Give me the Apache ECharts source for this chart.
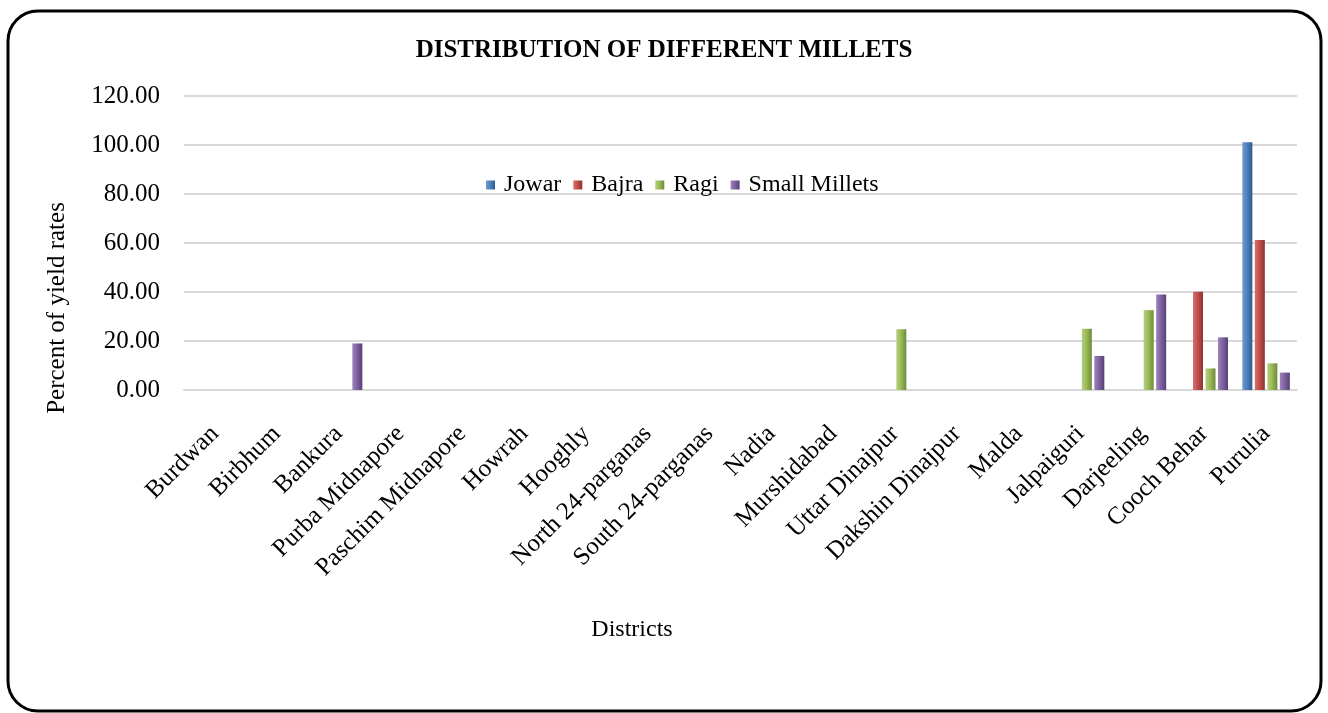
<!DOCTYPE html>
<html>
<head>
  <meta charset="utf-8">
  <title>millets</title>
  <script src="https://cdn.jsdelivr.net/npm/echarts@6/dist/echarts.min.js"></script>
  <style>
    body { margin: 0; background: #fff; }
    #chart { width: 1328px; height: 713px; }
  </style>
</head>
<body>
  <div id="chart"></div>
  <script>
    var districts = ['Burdwan', 'Birbhum', 'Bankura', 'Purba Midnapore', 'Paschim Midnapore', 'Howrah',
      'Hooghly', 'North 24-parganas', 'South 24-parganas', 'Nadia', 'Murshidabad', 'Uttar Dinajpur',
      'Dakshin Dinajpur', 'Malda', 'Jalpaiguri', 'Darjeeling', 'Cooch Behar', 'Purulia'];
    var jowar  = [0, 0, 0, 0, 0, 0, 0, 0, 0, 0, 0, 0, 0, 0, 0, 0, 0, 101.1];
    var bajra  = [0, 0, 0, 0, 0, 0, 0, 0, 0, 0, 0, 0, 0, 0, 0, 0, 40.1, 61.2];
    var ragi   = [0, 0, 0, 0, 0, 0, 0, 0, 0, 0, 0, 24.8, 0, 0, 25.0, 32.6, 8.8, 10.9];
    var small  = [0, 0, 19.0, 0, 0, 0, 0, 0, 0, 0, 0, 0, 0, 0, 13.9, 39.0, 21.5, 7.1];

    var font = '"Liberation Serif", "Times New Roman", serif';

    function shade(light, mid, dark) {
      return new echarts.graphic.LinearGradient(0, 0, 1, 0, [
        { offset: 0, color: light },
        { offset: 0.45, color: mid },
        { offset: 1, color: dark }
      ]);
    }

    function bar(name, data, light, mid, dark) {
      return {
        name: name,
        type: 'bar',
        data: data,
        barWidth: 10,
        barGap: '25%',
        itemStyle: { color: shade(light, mid, dark) }
      };
    }

    var chart = echarts.init(document.getElementById('chart'));
    chart.setOption({
      animation: false,
      title: {
        text: 'DISTRIBUTION OF DIFFERENT MILLETS',
        left: 'center',
        top: 38,
        padding: 0,
        textStyle: { fontFamily: font, fontSize: 25, fontWeight: 'bold', color: '#000' }
      },
      legend: {
        left: 486,
        top: 173,
        padding: 0,
        itemWidth: 9,
        itemHeight: 9,
        itemGap: 12,
        icon: 'rect',
        textStyle: { fontFamily: font, fontSize: 24, color: '#000', padding: [0, 0, 0, 4] },
        data: ['Jowar', 'Bajra', 'Ragi', 'Small Millets']
      },
      grid: { left: 184, right: 31, top: 96, bottom: 323 },
      xAxis: {
        type: 'category',
        data: districts,
        axisLine: { lineStyle: { color: '#d9d9d9', width: 2 } },
        axisTick: { show: false },
        axisLabel: {
          interval: 0,
          rotate: 45,
          margin: 40,
          fontFamily: font,
          fontSize: 25,
          color: '#000'
        }
      },
      yAxis: {
        type: 'value',
        min: 0,
        max: 120,
        interval: 20,
        axisLine: { show: false },
        axisTick: { show: false },
        splitLine: { lineStyle: { color: '#d9d9d9', width: 2 } },
        axisLabel: {
          margin: 24,
          fontFamily: font,
          fontSize: 25,
          color: '#000',
          formatter: function (v) { return v.toFixed(2); }
        }
      },
      graphic: [
        {
          type: 'rect',
          shape: { x: 8, y: 11, width: 1313, height: 700, r: 30 },
          style: { fill: 'none', stroke: '#000', lineWidth: 3 }
        },
        {
          type: 'text',
          x: 57,
          y: 308,
          rotation: Math.PI / 2,
          style: {
            text: 'Percent of yield rates',
            font: '25px ' + font,
            fill: '#000',
            align: 'center',
            verticalAlign: 'middle'
          }
        },
        {
          type: 'text',
          x: 632,
          y: 630,
          style: {
            text: 'Districts',
            font: '24px ' + font,
            fill: '#000',
            align: 'center',
            verticalAlign: 'middle'
          }
        }
      ],
      series: [
        bar('Jowar', jowar, '#6d9bd1', '#4f81bd', '#2f5a8e'),
        bar('Bajra', bajra, '#d8706c', '#c0504d', '#8f3331'),
        bar('Ragi', ragi, '#b4d07a', '#9bbb59', '#6e8a3a'),
        bar('Small Millets', small, '#9c83bd', '#8064a2', '#573f78')
      ]
    });
  </script>
</body>
</html>
